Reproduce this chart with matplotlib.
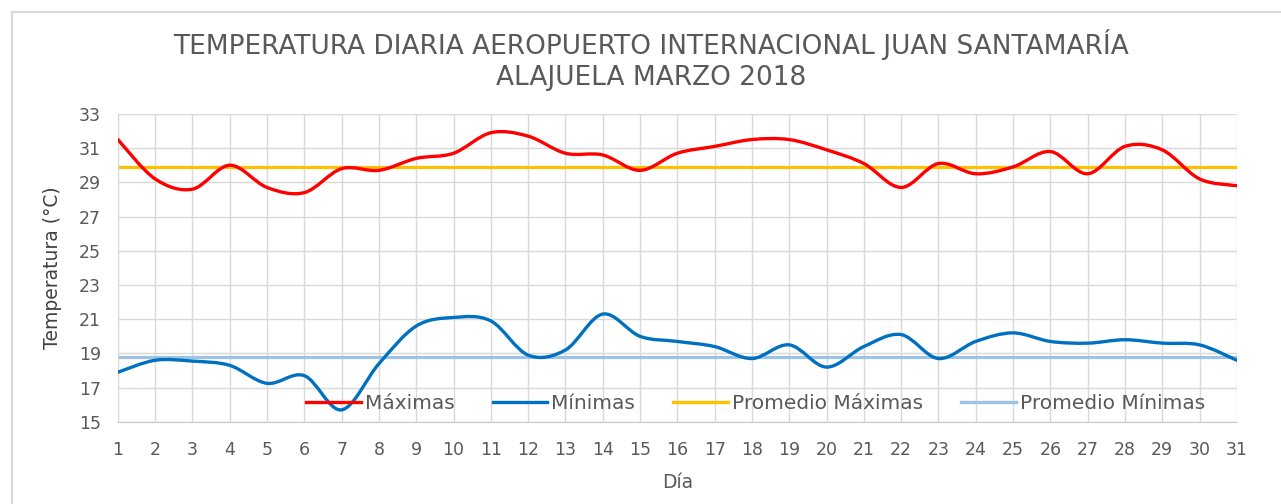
import matplotlib
matplotlib.use("Agg")
import matplotlib.pyplot as plt
from matplotlib.path import Path
from matplotlib.patches import PathPatch, Rectangle
from matplotlib.lines import Line2D


dias = list(range(1, 32))
maximas = [31.5, 29.2, 28.6, 30.0, 28.7, 28.4, 29.8, 29.7, 30.4, 30.7,
           31.9, 31.7, 30.7, 30.6, 29.7, 30.7, 31.1, 31.5, 31.5, 30.9,
           30.1, 28.7, 30.1, 29.5, 29.9, 30.8, 29.5, 31.1, 30.9, 29.2, 28.8]
minimas = [17.9, 18.6, 18.55, 18.3, 17.25, 17.7, 15.7, 18.4, 20.6, 21.1,
           20.9, 18.9, 19.2, 21.3, 20.0, 19.7, 19.4, 18.7, 19.5, 18.2,
           19.4, 20.1, 18.7, 19.7, 20.2, 19.7, 19.6, 19.8, 19.6, 19.5, 18.6]
promedio_max = 29.9
promedio_min = 18.8

titulo = "TEMPERATURA DIARIA AEROPUERTO INTERNACIONAL JUAN SANTAMARÍA\nALAJUELA MARZO 2018"
nombres = ["Máximas", "Mínimas", "Promedio Máximas", "Promedio Mínimas"]
colores = ["#FF0000", "#0070C0", "#FFC000", "#9DC3E6"]
texto = "#595959"


def curva_suave(x, y):
	# bezier like the excel "smoothed line"
	verts = [(x[0], y[0])]
	codes = [Path.MOVETO]
	n = len(x)
	for i in range(n - 1):
		x0, y0 = (x[i - 1], y[i - 1]) if i > 0 else (x[i], y[i])
		x3, y3 = (x[i + 2], y[i + 2]) if i + 2 < n else (x[i + 1], y[i + 1])
		c1 = (x[i] + (x[i + 1] - x0) / 6, y[i] + (y[i + 1] - y0) / 6)
		c2 = (x[i + 1] - (x3 - x[i]) / 6, y[i + 1] - (y3 - y[i]) / 6)
		verts += [c1, c2, (x[i + 1], y[i + 1])]
		codes += [Path.CURVE4] * 3
	return Path(verts, codes)


def main():
	fig = plt.figure(figsize=(12.81, 5.04), dpi=100)
	fig.patches.append(Rectangle((0.009, -0.01), 1.2, 0.986, transform=fig.transFigure,
								 fill=False, edgecolor="#d9d9d9", linewidth=1.5))
	ax = fig.add_axes([0.092, 0.163, 0.8735, 0.611])

	ax.axhline(promedio_max, color=colores[2], lw=2.3, zorder=2)
	ax.axhline(promedio_min, color=colores[3], lw=2.3, zorder=2)
	for serie, c in [(maximas, colores[0]), (minimas, colores[1])]:
		ax.add_patch(PathPatch(curva_suave(dias, serie), fill=False, edgecolor=c,
							   lw=2.4, zorder=3, capstyle="round"))

	ax.set_xlim(1, 31)
	ax.set_ylim(15, 33)
	ax.set_xticks(dias)
	ax.set_yticks(range(15, 34, 2))
	ax.grid(True, color="#d9d9d9", lw=1)
	ax.set_axisbelow(True)
	for s in ["top", "right"]:
		ax.spines[s].set_visible(False)
	ax.spines["left"].set_color("#d9d9d9")
	ax.spines["bottom"].set_color("#c8c8c8")
	ax.tick_params(axis="x", length=0, labelsize=12.5, labelcolor=texto, pad=14)
	ax.tick_params(axis="y", length=0, labelsize=12.5, labelcolor=texto, pad=12)

	ax.set_xlabel("Día", fontsize=13.5, color=texto, labelpad=10)
	ax.set_ylabel("Temperatura (°C)", fontsize=13.5, color="#404040", labelpad=12)
	fig.text(0.508, 0.88, titulo, ha="center", va="center", fontsize=19,
			 color=texto, linespacing=1.25)

	handles = [Line2D([], [], color=c, lw=2.4) for c in colores]
	ax.legend(handles, nombres, ncol=4, frameon=False, loc="center",
			  bbox_to_anchor=(0.57, 0.061), fontsize=14.5, labelcolor=texto,
			  handlelength=2.7, columnspacing=1.9, handletextpad=0.2)

	fig.savefig("out.png", dpi=100)


if __name__ == "__main__":
	main()
